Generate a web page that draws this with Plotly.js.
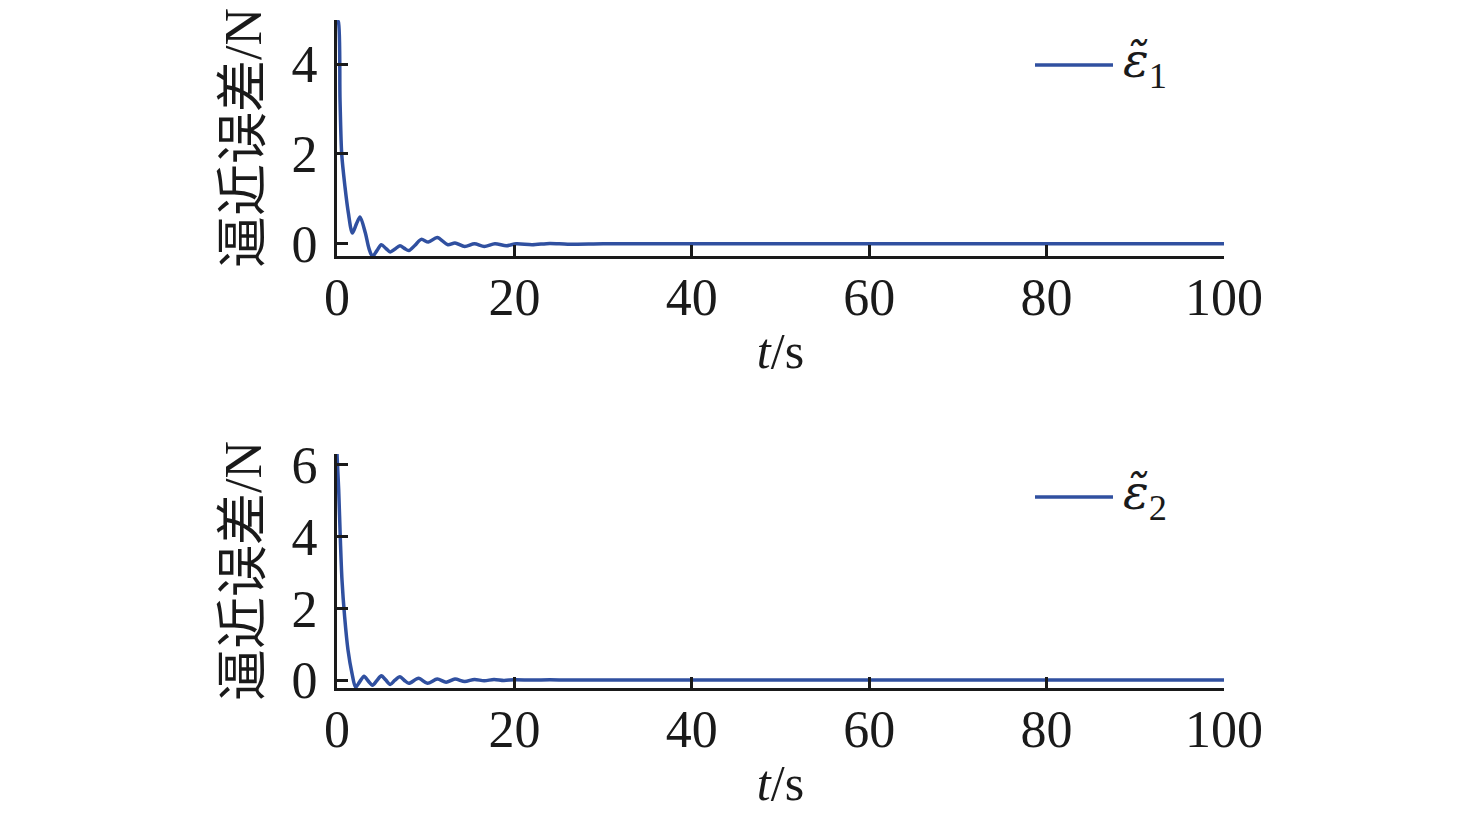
<!DOCTYPE html>
<html>
<head>
<meta charset="utf-8">
<script src="https://cdn.plot.ly/plotly-3.0.1.min.js"></script>
<style>html,body{margin:0;padding:0;background:#fff;}#chart{width:1476px;height:824px;}</style>
</head>
<body>
<div id="chart"></div>
<script>
// time samples and approximation errors
const t1 = [0, 0.15, 0.34, 0.53, 0.9, 1.28, 1.73, 2.2, 2.6, 3.2, 3.6, 4.0, 4.5, 5.0, 5.5, 6.0, 6.5, 7.1, 7.6, 8.1, 8.8, 9.5, 10.3, 11.3, 12.5, 13.3, 14.4, 15.5, 16.6, 17.8, 19.1, 20.2, 22, 24, 26, 30, 35, 40, 50, 60, 70, 80, 90, 100];
const e1 = [4.97, 4.94, 3.2, 2.0, 1.27, 0.69, 0.24, 0.45, 0.6, 0.24, -0.1, -0.28, -0.15, -0.02, -0.1, -0.18, -0.12, -0.04, -0.1, -0.15, -0.03, 0.1, 0.04, 0.14, -0.02, 0.02, -0.06, 0.0, -0.06, 0.0, -0.04, 0.0, -0.02, 0.01, -0.01, 0, 0, 0, 0, 0, 0, 0, 0, 0];
const t2 = [0, 0.19, 0.38, 0.56, 0.86, 1.24, 1.69, 2.1, 2.55, 3.05, 3.5, 4.0, 4.5, 5.0, 5.5, 6.0, 6.5, 7.1, 7.6, 8.1, 9.2, 10.2, 11.3, 12.3, 13.3, 14.4, 15.5, 16.6, 17.7, 18.8, 20, 22, 24, 26, 30, 40, 50, 60, 70, 80, 90, 100];
const e2 = [6.3, 5.3, 3.9, 2.8, 1.77, 0.84, 0.19, -0.2, -0.05, 0.11, -0.02, -0.14, -0.01, 0.12, 0.0, -0.12, -0.01, 0.09, -0.01, -0.09, 0.05, -0.09, 0.03, -0.06, 0.03, -0.04, 0.02, -0.02, 0.02, -0.01, 0.01, 0, 0.01, 0, 0, 0, 0, 0, 0, 0, 0, 0];
const seriesLabels = ['1', '2'];
const xTicks = [0, 20, 40, 60, 80, 100];
const y1Ticks = [0, 2, 4];
const y2Ticks = [0, 2, 4, 6];
const yTitle = '逼近误差/N';
const xTitle = '<i>t</i>/s';

const color = 'rgb(48,80,160)';
const ink = '#1a1a1a';
const fontFam = 'Liberation Serif, Times New Roman, Noto Sans CJK SC, serif';

const traces = [
  {x: t1, y: e1, name: 'ε' + seriesLabels[0], type: 'scatter', mode: 'lines', xaxis: 'x', yaxis: 'y', showlegend: false,
   line: {color: color, width: 3.5, shape: 'spline', smoothing: 0.8}},
  {x: t2, y: e2, name: 'ε' + seriesLabels[1], type: 'scatter', mode: 'lines', xaxis: 'x2', yaxis: 'y2', showlegend: false,
   line: {color: color, width: 3.5, shape: 'spline', smoothing: 0.8}}
];

const W = 1476, H = 824;
const xl = 337, xr = 1224;
function fy(p){ return (H - p) / H; }

function xax(anchor){
  return {
    domain: [xl / W, xr / W], anchor: anchor, range: [0, 100],
    tickvals: xTicks, ticktext: xTicks.map(String),
    ticks: 'inside', ticklen: 11, tickwidth: 3, tickcolor: ink, ticklabelstandoff: -6,
    showline: true, linecolor: ink, linewidth: 3, showgrid: false, zeroline: false,
    tickfont: {family: fontFam, size: 52, color: ink},
    title: {text: xTitle, font: {family: fontFam, size: 50, color: ink}, standoff: 8}
  };
}
function yax(anchor, dom, rng, tv){
  return {
    domain: dom, anchor: anchor, range: rng,
    tickvals: tv, ticktext: tv.map(String),
    ticks: 'inside', ticklen: 11, tickwidth: 3, tickcolor: ink, ticklabelstandoff: 6,
    showline: true, linecolor: ink, linewidth: 3, showgrid: false, zeroline: false,
    tickfont: {family: fontFam, size: 52, color: ink},
    title: {text: yTitle, font: {family: fontFam, size: 52, color: ink}, standoff: 14}
  };
}

// legend keys (line + label) per panel
const legendY = [65, 497];
const shapes = legendY.map(py => ({type: 'line', xref: 'paper', yref: 'paper',
  x0: 1035 / W, x1: 1113 / W, y0: fy(py), y1: fy(py), line: {color: color, width: 3.5}}));
const annotations = legendY.map((py, i) => ({xref: 'paper', yref: 'paper', x: 1121 / W, y: fy(py - 1),
  xanchor: 'left', yanchor: 'middle',
  text: '<span style="font-family:DejaVu Serif;font-style:italic;font-size:48px">ε\u0303</span><sub>' + seriesLabels[i] + '</sub>', showarrow: false,
  font: {family: fontFam, size: 52, color: ink}}));

const layout = {
  width: W, height: H,
  margin: {l: 0, r: 0, t: 0, b: 0},
  paper_bgcolor: '#fff', plot_bgcolor: '#fff',
  showlegend: false,
  xaxis: xax('y'),
  yaxis: yax('x', [fy(256), fy(20)], [-0.27, 4.98], y1Ticks),
  xaxis2: xax('y2'),
  yaxis2: yax('x2', [fy(688), fy(454)], [-0.22, 6.3], y2Ticks),
  shapes: shapes,
  annotations: annotations
};

Plotly.newPlot('chart', traces, layout, {displayModeBar: false, staticPlot: true});
</script>
</body>
</html>
